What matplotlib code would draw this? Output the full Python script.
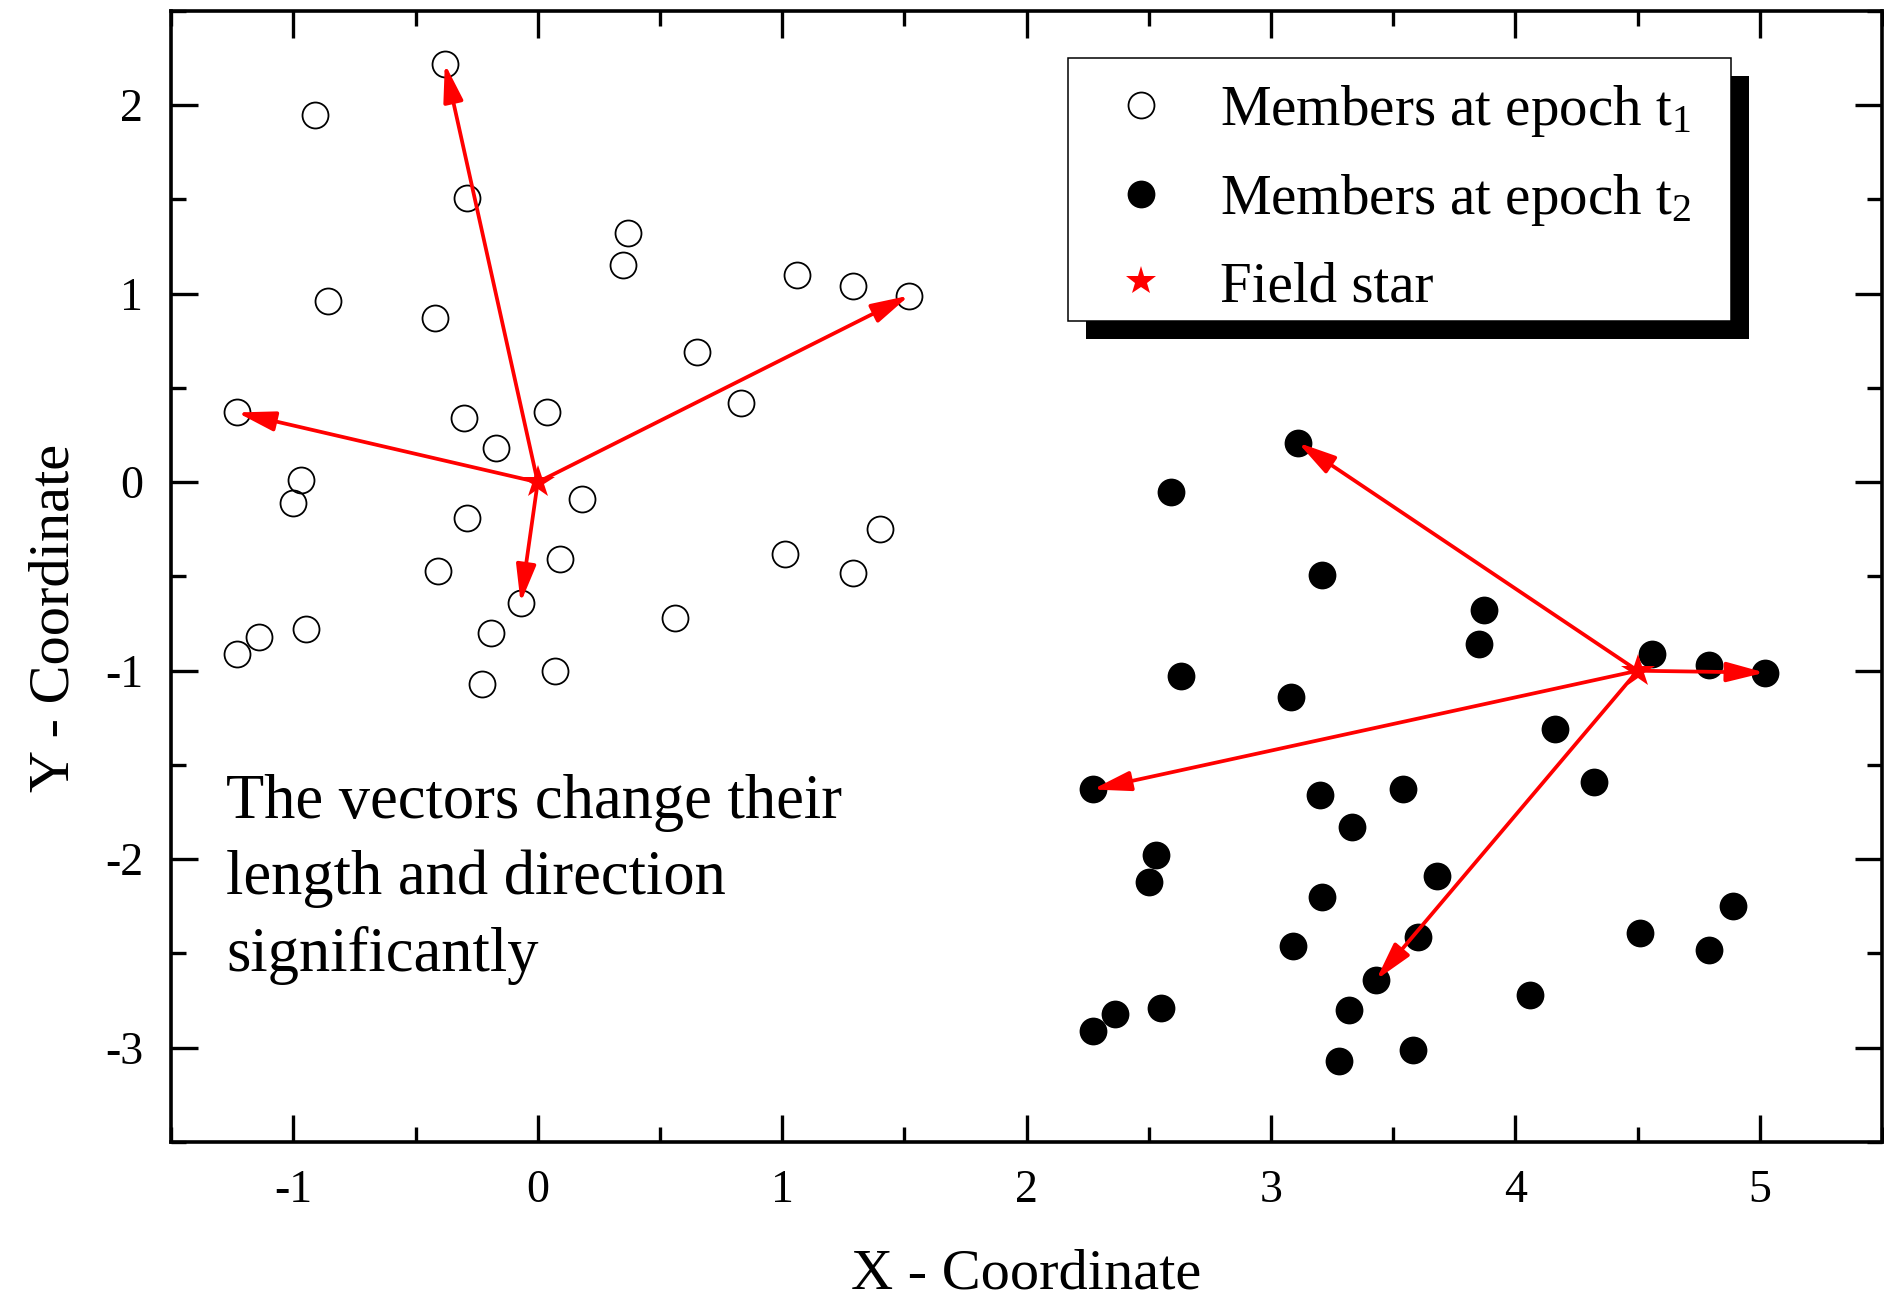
import matplotlib
matplotlib.use("Agg")
import matplotlib.pyplot as plt
from matplotlib.patches import Rectangle
from matplotlib.ticker import MultipleLocator

plt.rcParams['font.family'] = ['Liberation Serif', 'DejaVu Serif']
plt.rcParams['mathtext.fontset'] = 'custom'
plt.rcParams['mathtext.rm'] = 'Liberation Serif'
plt.rcParams['mathtext.it'] = 'Liberation Serif:italic'
plt.rcParams['axes.unicode_minus'] = False

# members at epoch t1 (open circles)
t1_x = [-0.38, -0.91, -0.29, 0.37, 0.35, 1.06, 1.29, 1.52, -0.86, -0.42, 0.65,
        0.83, -1.23, -0.30, 0.04, -0.17, -0.97, -1.00, 0.18, -0.29, 1.40, 1.01,
        0.09, -0.41, 1.29, -0.07, 0.56, -0.95, -1.14, -1.23, -0.19, 0.07, -0.23]
t1_y = [2.22, 1.95, 1.51, 1.32, 1.15, 1.10, 1.04, 0.99, 0.96, 0.87, 0.69,
        0.42, 0.37, 0.34, 0.37, 0.18, 0.01, -0.11, -0.09, -0.19, -0.25, -0.38,
        -0.41, -0.47, -0.48, -0.64, -0.72, -0.78, -0.82, -0.91, -0.80, -1.00, -1.07]

# members at epoch t2 (filled circles)
t2_x = [3.11, 2.59, 3.21, 3.87, 3.85, 4.56, 4.79, 5.02, 2.63, 3.08, 4.16,
        2.27, 4.32, 3.20, 3.54, 3.33, 2.53, 2.50, 3.68, 3.21, 4.89, 4.51,
        3.60, 3.09, 4.79, 3.43, 4.06, 2.55, 3.32, 2.36, 2.27, 3.58, 3.28]
t2_y = [0.21, -0.05, -0.49, -0.68, -0.86, -0.91, -0.97, -1.01, -1.03, -1.14, -1.31,
        -1.63, -1.59, -1.66, -1.63, -1.83, -1.98, -2.12, -2.09, -2.20, -2.25, -2.39,
        -2.41, -2.46, -2.48, -2.64, -2.72, -2.79, -2.80, -2.82, -2.91, -3.01, -3.07]

# field star position at each epoch, and the members its vectors point to
star_t1 = (0.0, 0.0)
star_t2 = (4.5, -1.0)
tips_t1 = [0, 7, 12, 25]
tips_t2 = [0, 7, 11, 25]

fig = plt.figure(figsize=(18.84, 13.02), dpi=100)
ax = fig.add_axes([0.0908, 0.1229, 0.9082, 0.8687])

ax.plot(t1_x, t1_y, 'o', ms=18.7, mfc='none', mec='black', mew=1.3,
        label='Members at epoch t$_1$', zorder=2)
ax.plot(t2_x, t2_y, 'o', ms=20, mfc='black', mec='black', mew=0,
        label='Members at epoch t$_2$', zorder=2)

arrow_kw = dict(arrowstyle='-|>,head_length=1.15,head_width=0.3', color='red',
                lw=2.7, mutation_scale=20, shrinkA=0, shrinkB=0)
for star, xs, ys, tips in [(star_t1, t1_x, t1_y, tips_t1),
                           (star_t2, t2_x, t2_y, tips_t2)]:
    for i in tips:
        ax.annotate('', xy=(xs[i], ys[i]), xytext=star, arrowprops=arrow_kw,
                    zorder=3)

ax.plot([star_t1[0], star_t2[0]], [star_t1[1], star_t2[1]], '*', ls='none',
        ms=25, color='red', mew=0, label='Field star', zorder=4)

ax.set_xlim(-1.5, 5.5)
ax.set_ylim(-3.5, 2.5)
ax.xaxis.set_major_locator(MultipleLocator(1))
ax.xaxis.set_minor_locator(MultipleLocator(0.5))
ax.yaxis.set_major_locator(MultipleLocator(1))
ax.yaxis.set_minor_locator(MultipleLocator(0.5))
ax.tick_params(which='both', direction='in', top=True, right=True, width=2.4,
               labelsize=33)
ax.tick_params(which='major', length=19.4, pad=20)
ax.tick_params(which='minor', length=10.8)
for sp in ax.spines.values():
    sp.set_linewidth(2.6)

ax.set_xlabel('X - Coordinate', fontsize=42)
ax.set_ylabel('Y - Coordinate', fontsize=42)
ax.xaxis.set_label_coords(0.5, -0.094)
ax.yaxis.set_label_coords(-0.053, 0.463)

ax.text(-1.274, -1.55, 'The vectors change their\nlength and direction\nsignificantly',
        fontsize=45, ha='left', va='top', linespacing=1.39)

# legend box with a solid black drop shadow, drawn by hand
bx0, bx1, by0, by1 = 0.5242, 0.9117, 0.7259, 0.9584
dx, dy = 0.0105, 0.0159
ax.add_patch(Rectangle((bx0 + dx, by0 - dy), bx1 - bx0, by1 - by0,
                       transform=ax.transAxes, facecolor='black',
                       edgecolor='none', clip_on=False, zorder=5))
ax.add_patch(Rectangle((bx0, by0), bx1 - bx0, by1 - by0,
                       transform=ax.transAxes, facecolor='white',
                       edgecolor='black', lw=1.1, clip_on=False, zorder=5.1))

leg = ax.legend(loc='upper left', bbox_to_anchor=(0.5403, 0.9362),
                borderaxespad=0, borderpad=0, fontsize=41, frameon=False,
                markerscale=1.0, handlelength=1.6, handletextpad=0.59,
                labelspacing=0.58)
leg.set_zorder(6)
leg.legend_handles[2].set_markersize(22)

fig.savefig('out.png', dpi=100)
